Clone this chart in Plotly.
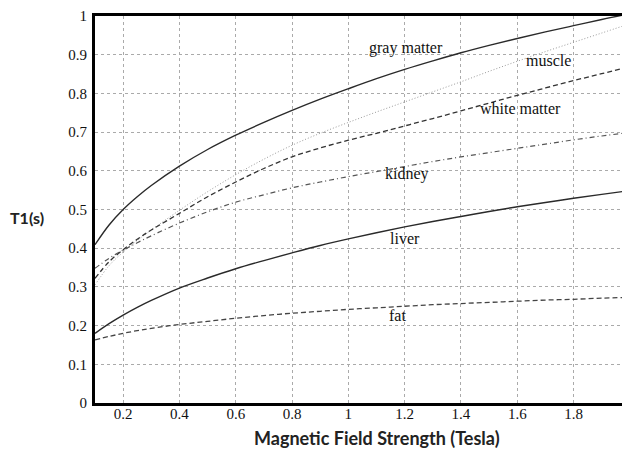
import plotly.graph_objects as go

field = [0.1, 0.15, 0.2, 0.25, 0.3, 0.4, 0.5, 0.6, 0.7, 0.8, 0.9, 1.0, 1.1, 1.2, 1.3, 1.4, 1.5, 1.6, 1.7, 1.8, 1.9, 2.0]
gray_matter = [0.409, 0.46, 0.50, 0.533, 0.562, 0.612, 0.655, 0.692, 0.725, 0.756, 0.785, 0.812, 0.838, 0.862, 0.884, 0.905, 0.924, 0.942, 0.959, 0.975, 0.991, 1.006]
muscle = [0.305, 0.355, 0.39, 0.42, 0.447, 0.498, 0.546, 0.59, 0.63, 0.666, 0.697, 0.725, 0.752, 0.778, 0.804, 0.83, 0.857, 0.883, 0.908, 0.932, 0.956, 0.98]
white_matter = [0.322, 0.365, 0.396, 0.423, 0.447, 0.49, 0.533, 0.571, 0.606, 0.636, 0.659, 0.679, 0.697, 0.716, 0.735, 0.755, 0.775, 0.795, 0.814, 0.833, 0.851, 0.869]
kidney = [0.348, 0.374, 0.395, 0.414, 0.432, 0.465, 0.494, 0.519, 0.538, 0.556, 0.571, 0.585, 0.598, 0.611, 0.624, 0.636, 0.647, 0.658, 0.669, 0.68, 0.69, 0.699]
liver = [0.18, 0.205, 0.227, 0.247, 0.265, 0.297, 0.323, 0.347, 0.368, 0.388, 0.407, 0.424, 0.44, 0.455, 0.469, 0.482, 0.495, 0.507, 0.518, 0.529, 0.539, 0.549]
fat = [0.163, 0.172, 0.18, 0.187, 0.193, 0.203, 0.211, 0.219, 0.226, 0.232, 0.237, 0.242, 0.246, 0.25, 0.254, 0.257, 0.26, 0.263, 0.266, 0.268, 0.271, 0.273]

labels = ["gray matter", "muscle", "white matter", "kidney", "liver", "fat"]
label_x = [1.205, 1.71, 1.61, 1.21, 1.2, 1.175]
label_y = [0.917, 0.886, 0.762, 0.592, 0.424, 0.225]

x_ticks = [0.2, 0.4, 0.6, 0.8, 1.0, 1.2, 1.4, 1.6, 1.8, 2.0]
x_tick_text = ["0.2", "0.4", "0.6", "0.8", "1", "1.2", "1.4", "1.6", "1.8", "2"]
y_ticks = [0, 0.1, 0.2, 0.3, 0.4, 0.5, 0.6, 0.7, 0.8, 0.9, 1.0]
y_tick_text = ["0", "0.1", "0.2", "0.3", "0.4", "0.5", "0.6", "0.7", "0.8", "0.9", "1"]

series = [
    (gray_matter, dict(color="#2a2a2a", width=1.4, dash="solid")),
    (muscle, dict(color="#9a9a9a", width=1, dash="1px,2px")),
    (white_matter, dict(color="#333333", width=1.3, dash="5px,3px")),
    (kidney, dict(color="#555555", width=1.2, dash="5px,3px,1px,3px")),
    (liver, dict(color="#2a2a2a", width=1.4, dash="solid")),
    (fat, dict(color="#444444", width=1.3, dash="5px,3px")),
]

fig = go.Figure()
for vals, line in series:
    fig.add_trace(go.Scatter(x=field, y=vals, mode="lines",
                             line=dict(shape="spline", smoothing=1.0, **line),
                             showlegend=False, hoverinfo="skip"))

for t, lx, ly in zip(labels, label_x, label_y):
    fig.add_annotation(x=lx, y=ly, text=t, showarrow=False,
                       font=dict(family="Liberation Serif", size=16, color="#111111"))

# page has an 8px body margin; figure sized to fit the remaining window
OFF = 8
W, H = 630 - OFF, 455 - OFF
L, R, T, B = 95 - OFF, 0, 16 - OFF, 52
pw, ph = W - L - R, H - T - B
bottom = H - B
fig.add_annotation(xref="paper", yref="paper", x=((377 - OFF) - L) / pw, y=-((438 - OFF) - bottom) / ph,
                   xanchor="center", yanchor="middle",
                   text="<b>Magnetic Field Strength (Tesla)</b>", showarrow=False,
                   font=dict(family="Lato", size=18, color="#222222"))
fig.add_annotation(xref="paper", yref="paper", x=-(L - (27 - OFF)) / pw, y=(bottom - (217 - OFF)) / ph,
                   xanchor="center", yanchor="middle",
                   text="<b>T1(s)</b>", showarrow=False,
                   font=dict(family="Lato", size=16, color="#222222"))

fig.update_layout(
    width=W, height=H,
    margin=dict(l=L, r=R, t=T, b=B, autoexpand=False),
    paper_bgcolor="white", plot_bgcolor="white",
    xaxis=dict(range=[0.1, 2.0005], tickvals=x_ticks, ticktext=x_tick_text, automargin=False,
               showline=True, linecolor="black", linewidth=3, mirror=True,
               showgrid=True, gridcolor="#aaaaaa", griddash="dot", gridwidth=1,
               zeroline=False, ticks="", ticklabelstandoff=-5, ticklabeloverflow="allow",
               tickfont=dict(family="Liberation Serif", size=15, color="#111111")),
    yaxis=dict(range=[0, 1.0], tickvals=y_ticks, ticktext=y_tick_text, automargin=False,
               showline=True, linecolor="black", linewidth=3,
               showgrid=True, gridcolor="#aaaaaa", griddash="dot", gridwidth=1,
               zeroline=False, ticks="", ticklabelstandoff=2, ticklabeloverflow="allow",
               tickfont=dict(family="Liberation Serif", size=15, color="#111111")),
)

fig.write_html("out.html")
